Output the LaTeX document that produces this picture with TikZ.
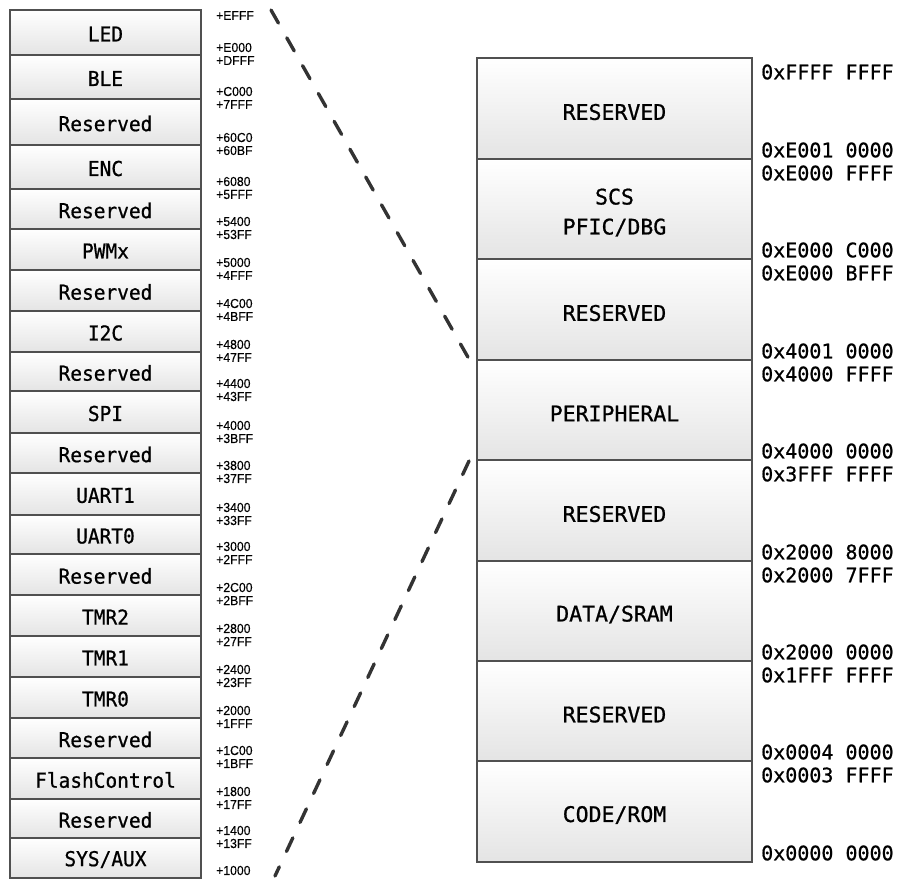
\documentclass[tikz,border=0pt]{standalone}
\usepackage{fontspec}
\newfontfamily\boxfont[FakeBold=0.8]{DejaVu Sans Mono}
\newfontfamily\lboxfont[FakeBold=0.8,FakeStretch=0.95]{DejaVu Sans Mono}
\newfontfamily\addrfont[FakeStretch=0.94,FakeBold=0.3]{Liberation Sans}
\usetikzlibrary{calc}
\definecolor{boxline}{HTML}{505050}
\definecolor{boxbot}{HTML}{E4E4E4}
\definecolor{dashc}{HTML}{333333}
\begin{document}
\begin{tikzpicture}[x=1pt,y=-1pt,
  membox/.style={rectangle,draw=boxline,line width=2pt,top color=white,bottom color=boxbot,
    anchor=north west,inner sep=0pt,minimum width=#1},
  ltext/.style={font=\lboxfont\fontsize{20.5}{22}\selectfont,text=black,inner sep=0pt},
  rtext/.style={font=\boxfont\fontsize{21.5}{30}\selectfont,text=black,inner sep=0pt,align=center},
  laddr/.style={font=\addrfont\fontsize{13}{14}\selectfont,text=black,anchor=west,inner sep=0pt},
  raddr/.style={font=\boxfont\fontsize{20}{22}\selectfont,text=black,anchor=west,inner sep=0pt},
  dashln/.style={draw=dashc,line width=3.4pt,line cap=round,dash pattern=on 15pt off 17pt}]
\useasboundingbox (0,0) rectangle (898,879);
% left column
\foreach \t/\b/\nm/\hi/\lo [count=\i] in {
  9/54/LED/+EFFF/+E000,
  54/98/BLE/+DFFF/+C000,
  98/144/Reserved/+7FFF/+60C0,
  144/188/ENC/+60BF/+6080,
  188/228/Reserved/+5FFF/+5400,
  228/269/PWMx/+53FF/+5000,
  269/310/Reserved/+4FFF/+4C00,
  310/351/I2C/+4BFF/+4800,
  351/390/Reserved/+47FF/+4400,
  390/432/SPI/+43FF/+4000,
  432/472/Reserved/+3BFF/+3800,
  472/514/UART1/+37FF/+3400,
  514/553/UART0/+33FF/+3000,
  553/594/Reserved/+2FFF/+2C00,
  594/635/TMR2/+2BFF/+2800,
  635/676/TMR1/+27FF/+2400,
  676/717/TMR0/+23FF/+2000,
  717/757/Reserved/+1FFF/+1C00,
  757/798/FlashControl/+1BFF/+1800,
  798/837/Reserved/+17FF/+1400,
  837/877/{SYS/AUX}/+13FF/+1000}{
  \pgfmathsetmacro\hh{\b-\t}
  \node[membox=191pt,minimum height=\hh pt] (L\i) at (9,\t) {};
  \node[ltext] (Lt\i) at ($(L\i.center)+(0,1.5)$) {\nm};
  \node[laddr] (La\i) at (216,\t+6.5) {\hi};
  \node[laddr] (Lb\i) at (216,\b-6.5) {\lo};
}
% right column
\foreach \t/\b/\nm/\hi/\lo [count=\i] in {
  57/158/RESERVED/0xFFFF FFFF/0xE001 0000,
  158/258/{SCS\\PFIC/DBG}/0xE000 FFFF/0xE000 C000,
  258/359/RESERVED/0xE000 BFFF/0x4001 0000,
  359/459/PERIPHERAL/0x4000 FFFF/0x4000 0000,
  459/560/RESERVED/0x3FFF FFFF/0x2000 8000,
  560/660/{DATA/SRAM}/0x2000 7FFF/0x2000 0000,
  660/760/RESERVED/0x1FFF FFFF/0x0004 0000,
  760/861/{CODE/ROM}/0x0003 FFFF/0x0000 0000}{
  \pgfmathsetmacro\hh{\b-\t}
  \node[membox=275pt,minimum height=\hh pt] (R\i) at (476,\t) {};
  \node[rtext] (Rt\i) at ($(R\i.center)+(0,3.5)$) {\nm};
  \node[raddr] (Ra\i) at (761,\t+15) {\hi};
  \node[raddr] (Rb\i) at (761,\b-8) {\lo};
}
% dashed connectors
\coordinate (dA) at (271,10);
\coordinate (dB) at (275,876);
\draw[dashln] (dA) -- ($(R4.north west)+(-7,0)$);
\draw[dashln] ($(R4.south west)+(-7,0)$) -- (dB);
\end{tikzpicture}
\end{document}
